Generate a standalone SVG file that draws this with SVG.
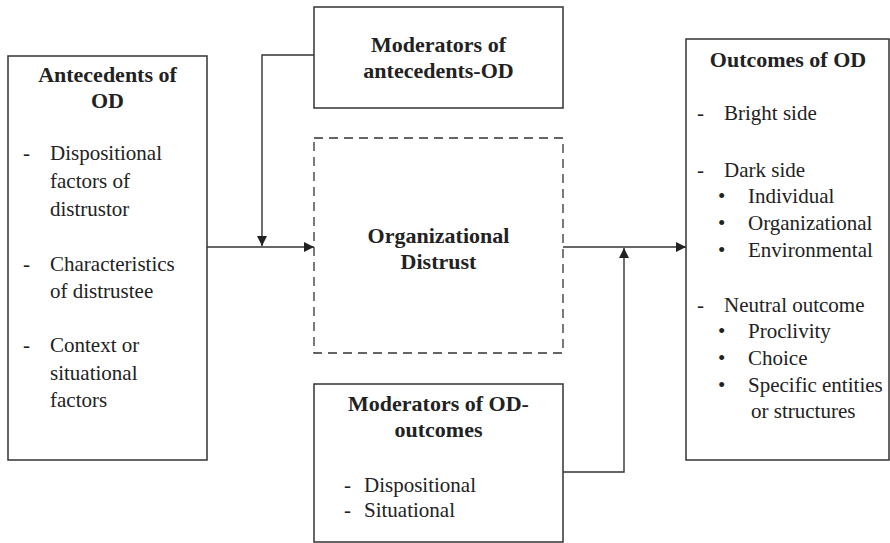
<svg xmlns="http://www.w3.org/2000/svg" width="890" height="543" viewBox="0 0 890 543">
<style>
.box{fill:#fff;stroke:#333;stroke-width:1.5}
.dash{fill:#fff;stroke:#333;stroke-width:1.3;stroke-dasharray:9 6}
.t{font-family:"Liberation Serif","Times New Roman",serif;font-size:21px;fill:#222}
.b{font-family:"Liberation Serif","Times New Roman",serif;font-size:22px;font-weight:bold;fill:#222;text-anchor:middle}
.ln{fill:none;stroke:#333;stroke-width:1.4}
</style>
<defs>
<marker id="ah" viewBox="0 0 10 10" refX="10" refY="5" markerWidth="10" markerHeight="10" markerUnits="userSpaceOnUse" orient="auto">
<path d="M0,0 L10,5 L0,10 Z" fill="#222"/>
</marker>
</defs>
<rect width="890" height="543" fill="#fff"/>
<g id="connectors">
<line class="ln" x1="207" y1="247" x2="314" y2="247" marker-end="url(#ah)"/>
<polyline class="ln" points="314,55 262,55 262,246" marker-end="url(#ah)"/>
<line class="ln" x1="563" y1="247" x2="686" y2="247" marker-end="url(#ah)"/>
<polyline class="ln" points="563,472 624,472 624,248" marker-end="url(#ah)"/>
</g>
<g id="antecedents">
<rect class="box" x="8" y="56" width="199" height="404"/>
<text class="b" x="107.5" y="82">Antecedents of</text>
<text class="b" x="107.5" y="108">OD</text>
<text class="t" x="23" y="160">-</text>
<text class="t" x="50" y="160">Dispositional</text>
<text class="t" x="50" y="188">factors of</text>
<text class="t" x="50" y="216">distrustor</text>
<text class="t" x="23" y="271">-</text>
<text class="t" x="50" y="271">Characteristics</text>
<text class="t" x="50" y="298">of distrustee</text>
<text class="t" x="23" y="352">-</text>
<text class="t" x="50" y="352">Context or</text>
<text class="t" x="50" y="380">situational</text>
<text class="t" x="50" y="407">factors</text>
</g>
<g id="mod-antecedents">
<rect class="box" x="314" y="7" width="249" height="101"/>
<text class="b" x="438.5" y="52">Moderators of</text>
<text class="b" x="438.5" y="78">antecedents-OD</text>
</g>
<g id="distrust">
<rect class="dash" x="314" y="138" width="249" height="215"/>
<text class="b" x="438.5" y="243">Organizational</text>
<text class="b" x="438.5" y="269">Distrust</text>
</g>
<g id="mod-outcomes">
<rect class="box" x="314" y="384" width="249" height="158"/>
<text class="b" x="438.5" y="411">Moderators of OD-</text>
<text class="b" x="438.5" y="437">outcomes</text>
<text class="t" x="344" y="492">-</text>
<text class="t" x="364" y="492">Dispositional</text>
<text class="t" x="344" y="517">-</text>
<text class="t" x="364" y="517">Situational</text>
</g>
<g id="outcomes">
<rect class="box" x="686" y="39" width="203" height="421"/>
<text class="b" x="788" y="67">Outcomes of OD</text>
<text class="t" x="697" y="120">-</text>
<text class="t" x="724" y="120">Bright side</text>
<text class="t" x="697" y="177">-</text>
<text class="t" x="724" y="177">Dark side</text>
<text class="t" x="718" y="203">•</text>
<text class="t" x="748" y="203">Individual</text>
<text class="t" x="718" y="230">•</text>
<text class="t" x="748" y="230">Organizational</text>
<text class="t" x="718" y="257">•</text>
<text class="t" x="748" y="257">Environmental</text>
<text class="t" x="697" y="312">-</text>
<text class="t" x="724" y="312">Neutral outcome</text>
<text class="t" x="718" y="338">•</text>
<text class="t" x="748" y="338">Proclivity</text>
<text class="t" x="718" y="365">•</text>
<text class="t" x="748" y="365">Choice</text>
<text class="t" x="718" y="392">•</text>
<text class="t" x="748" y="392">Specific entities</text>
<text class="t" x="751" y="418">or structures</text>
</g>
</svg>
